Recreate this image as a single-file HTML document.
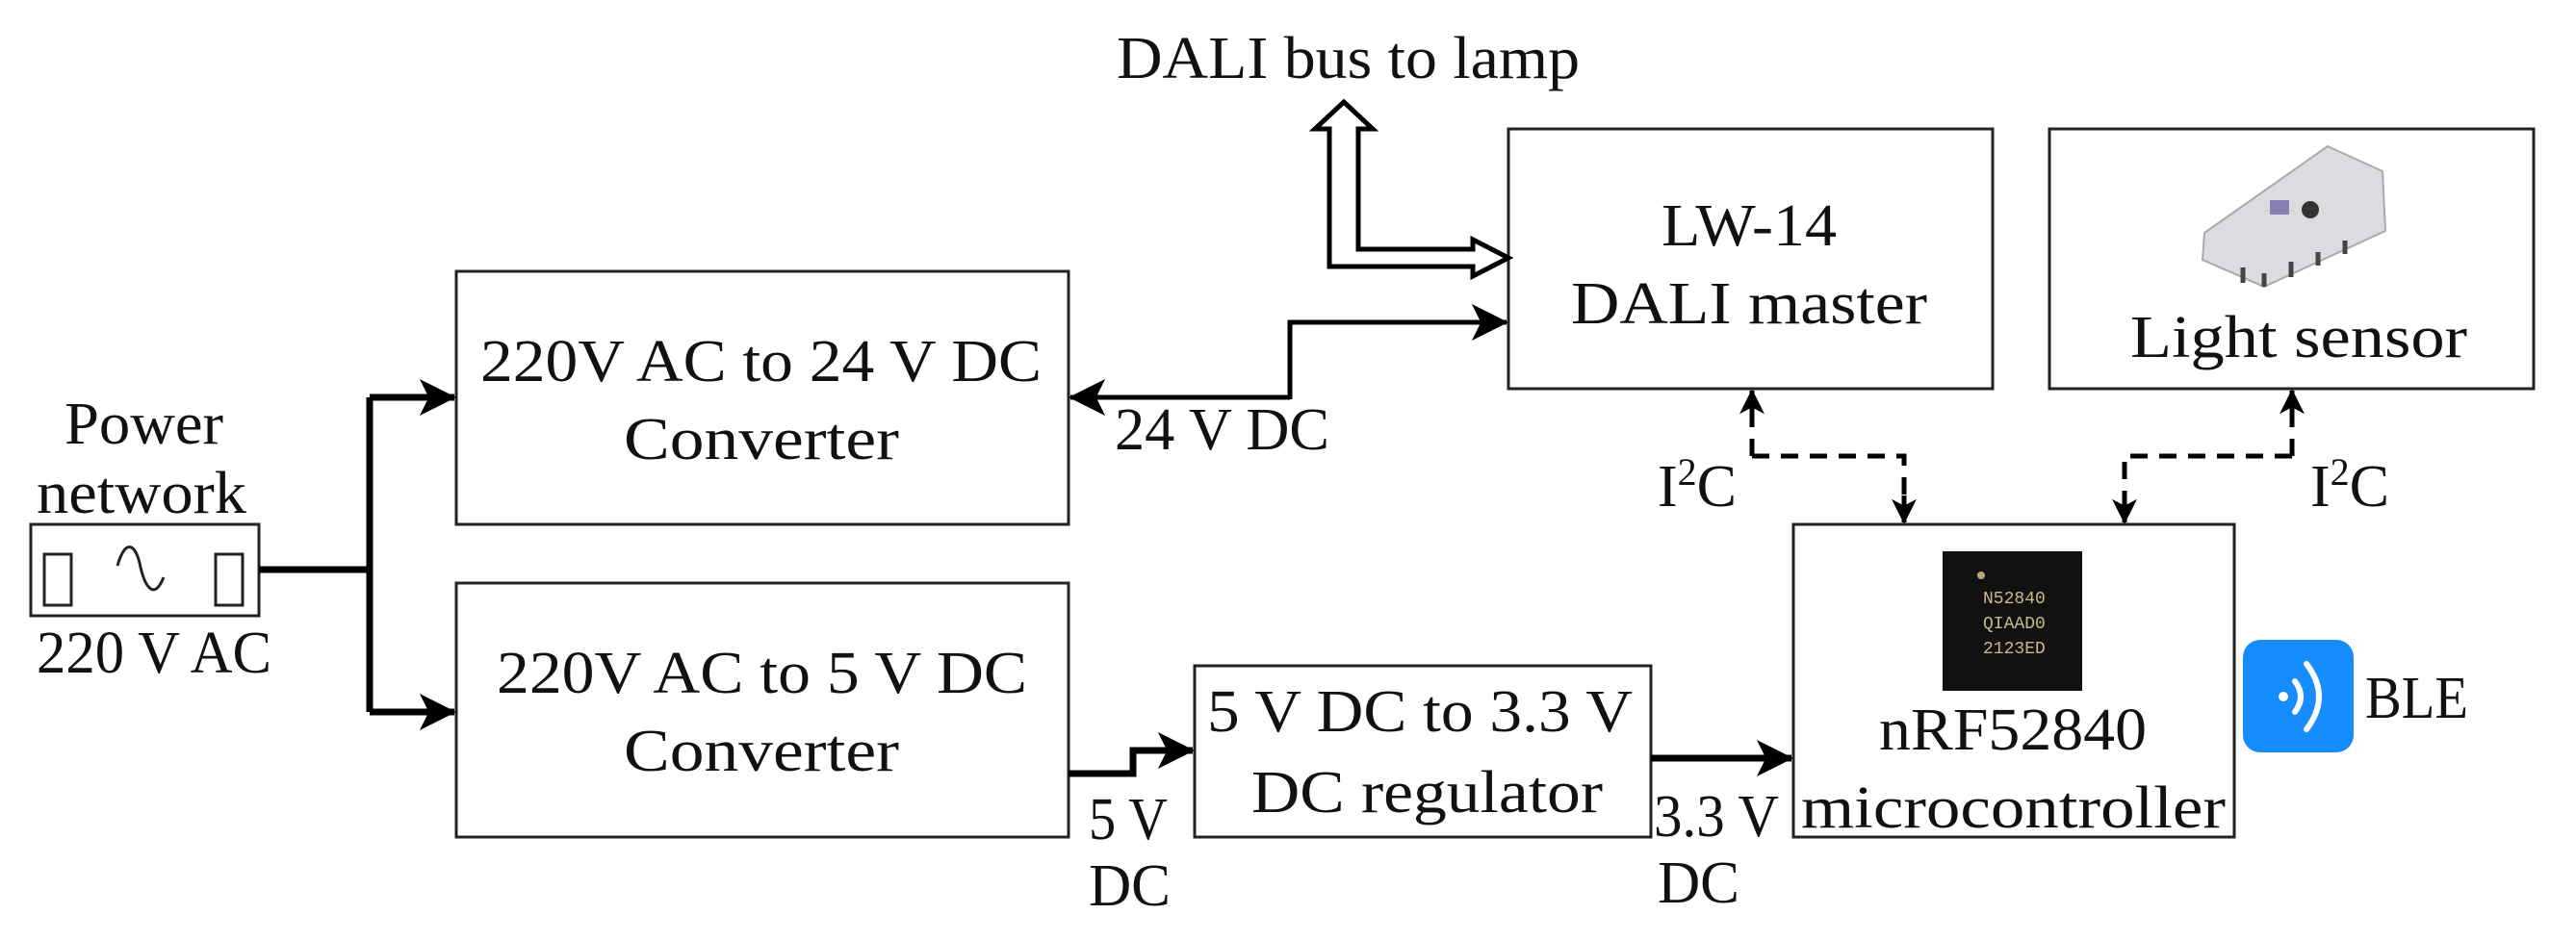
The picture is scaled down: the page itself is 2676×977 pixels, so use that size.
<!DOCTYPE html>
<html><head><meta charset="utf-8"><style>
html,body{margin:0;padding:0;background:#fff;}
svg{display:block;}
text{font-family:"Liberation Serif",serif;font-size:62px;fill:#111;}
</style></head><body>
<svg width="2676" height="977" viewBox="0 0 2676 977" xmlns="http://www.w3.org/2000/svg">
<defs>
<marker id="ah" viewBox="0 0 40 40" refX="38" refY="20" markerWidth="40" markerHeight="38" markerUnits="userSpaceOnUse" orient="auto">
<path d="M0,0 L40,20 L0,40 L10,20 Z" fill="#000"/></marker>
<marker id="ahs" viewBox="0 0 30 30" refX="28" refY="15" markerWidth="26" markerHeight="26" markerUnits="userSpaceOnUse" orient="auto">
<path d="M0,0 L30,15 L0,30 L8,15 Z" fill="#000"/></marker>
</defs>
<g fill="none" stroke="#222" stroke-width="3">
<rect x="474" y="282" width="636" height="263"/>
<rect x="474" y="606" width="636" height="264"/>
<rect x="32" y="545" width="237" height="95"/>
<rect x="1567" y="134" width="503" height="270"/>
<rect x="2129" y="134" width="503" height="270"/>
<rect x="1863" y="545" width="458" height="325"/>
<rect x="1241" y="692" width="474" height="178"/>
<rect x="46" y="576" width="28" height="53"/>
<rect x="224" y="576" width="28" height="53"/>
<path d="M122,588 C130,560 140,565 145,585 C150,610 160,625 170,600"/>
</g>
<g fill="none" stroke="#000" stroke-width="7">
<path d="M269,592 H384"/>
<path d="M384,413 V740"/>
<path d="M384,413 H472" marker-end="url(#ah)"/>
<path d="M384,740 H472" marker-end="url(#ah)"/>
<path d="M1110,804 H1177 V780 H1239" marker-end="url(#ah)"/>
<path d="M1715,788 H1861" marker-end="url(#ah)"/>
</g>
<g fill="none" stroke="#000" stroke-width="5">
<path d="M1340,413 H1112" marker-end="url(#ah)"/>
<path d="M1340,415 V335 H1565" marker-end="url(#ah)"/>
</g>
<!-- hollow DALI arrow -->
<path d="M1381,277 V134 H1366 L1396,106 L1426,134 H1411 V259 H1530 V249 L1567,268 L1530,287 V277 Z" fill="#fff" stroke="#000" stroke-width="5" stroke-linejoin="miter"/>
<!-- I2C dashed -->
<g fill="none" stroke="#000" stroke-width="5" stroke-dasharray="18,12">
<path d="M1820,474 H1978 V520"/>
<path d="M2381,474 H2207 V520"/>
<path d="M1820,474 V430"/>
<path d="M2381,474 V430"/>
</g>
<g fill="none" stroke="#000" stroke-width="5">
<path d="M1978,515 V543" marker-end="url(#ahs)"/>
<path d="M2207,515 V543" marker-end="url(#ahs)"/>
<path d="M1820,435 V406" marker-end="url(#ahs)"/>
<path d="M2381,435 V406" marker-end="url(#ahs)"/>
</g>
<!-- chip -->
<rect x="2018" y="573" width="145" height="145" fill="#111"/>
<circle cx="2058" cy="598" r="4" fill="#b9a77a"/>
<text x="2060" y="627" style="font-family:'Liberation Mono',monospace;font-size:18px;fill:#c9b98a">N52840</text>
<text x="2060" y="653" style="font-family:'Liberation Mono',monospace;font-size:18px;fill:#c9b98a">QIAAD0</text>
<text x="2060" y="679" style="font-family:'Liberation Mono',monospace;font-size:18px;fill:#c9b98a">2123ED</text>
<!-- sensor -->
<path d="M2290,242 L2418,152 L2475,178 L2478,240 L2352,298 L2288,270 Z" fill="#dadcdf" stroke="#aaa" stroke-width="2"/>
<rect x="2358" y="208" width="20" height="15" fill="#8a7fb0"/>
<circle cx="2400" cy="218" r="9" fill="#333"/>
<g stroke="#444" stroke-width="5"><path d="M2330,278 V294 M2352,284 V298 M2380,272 V288 M2408,262 V276 M2436,250 V264"/></g>
<!-- BLE -->
<rect x="2330" y="665" width="115" height="117" rx="18" fill="#168dff"/>
<circle cx="2372" cy="724" r="5" fill="#fff"/>
<path d="M2384,708 Q2396,724 2384,740" fill="none" stroke="#fff" stroke-width="6" stroke-linecap="round"/>
<path d="M2396,690 Q2422,724 2396,758" fill="none" stroke="#fff" stroke-width="6" stroke-linecap="round"/>
<!-- text -->
<text x="67" y="461" textLength="165" lengthAdjust="spacingAndGlyphs">Power</text>
<text x="38" y="533" textLength="218" lengthAdjust="spacingAndGlyphs">network</text>
<text x="38" y="699" textLength="244" lengthAdjust="spacingAndGlyphs">220 V AC</text>
<text x="499" y="396" textLength="583" lengthAdjust="spacingAndGlyphs">220V AC to 24 V DC</text>
<text x="648" y="477" textLength="286" lengthAdjust="spacingAndGlyphs">Converter</text>
<text x="516" y="720" textLength="551" lengthAdjust="spacingAndGlyphs">220V AC to 5 V DC</text>
<text x="648" y="801" textLength="286" lengthAdjust="spacingAndGlyphs">Converter</text>
<text x="1160" y="81" textLength="481" lengthAdjust="spacingAndGlyphs">DALI  bus to lamp</text>
<text x="1158" y="467" textLength="223" lengthAdjust="spacingAndGlyphs">24 V DC</text>
<text x="1726" y="255" textLength="182" lengthAdjust="spacingAndGlyphs">LW-14</text>
<text x="1632" y="336" textLength="370" lengthAdjust="spacingAndGlyphs">DALI master</text>
<text x="2213" y="371" textLength="350" lengthAdjust="spacingAndGlyphs">Light sensor</text>
<text x="1952" y="779" textLength="278" lengthAdjust="spacingAndGlyphs">nRF52840</text>
<text x="1871" y="860" textLength="441" lengthAdjust="spacingAndGlyphs">microcontroller</text>
<text x="2457" y="746" textLength="107" lengthAdjust="spacingAndGlyphs">BLE</text>
<text x="1254" y="760" textLength="442" lengthAdjust="spacingAndGlyphs">5 V DC to 3.3 V</text>
<text x="1300" y="844" textLength="365" lengthAdjust="spacingAndGlyphs">DC regulator</text>
<text x="1131" y="872" textLength="82" lengthAdjust="spacingAndGlyphs">5 V</text>
<text x="1131" y="941" textLength="85" lengthAdjust="spacingAndGlyphs">DC</text>
<text x="1718" y="869" textLength="130" lengthAdjust="spacingAndGlyphs">3.3 V</text>
<text x="1722" y="938" textLength="85" lengthAdjust="spacingAndGlyphs">DC</text>
<text x="1722" y="526">I<tspan dy="-22" style="font-size:40px">2</tspan><tspan dy="22">C</tspan></text>
<text x="2400" y="526">I<tspan dy="-22" style="font-size:40px">2</tspan><tspan dy="22">C</tspan></text>
</svg>
</body></html>
